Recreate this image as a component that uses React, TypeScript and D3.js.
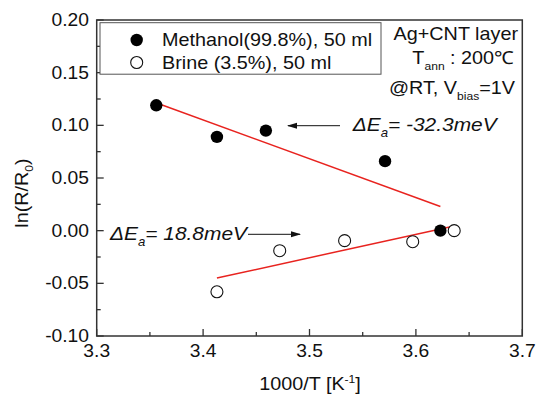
import React from "react";
import * as d3 from "d3";

const methanolX = [3.356, 3.413, 3.459, 3.571, 3.623];
const methanolY = [0.119, 0.089, 0.095, 0.066, 0.0];
const brineX = [3.413, 3.472, 3.533, 3.597, 3.636];
const brineY = [-0.058, -0.019, -0.0095, -0.0105, 0.0];
const methanolFitX = [3.357, 3.623];
const methanolFitY = [0.121, 0.023];
const brineFitX = [3.413, 3.636];
const brineFitY = [-0.045, 0.0045];
const xTicks = [3.3, 3.4, 3.5, 3.6, 3.7];
const xMinor = [3.35, 3.45, 3.55, 3.65];
const yTicks = [-0.1, -0.05, 0.0, 0.05, 0.1, 0.15, 0.2];
const yMinor = [-0.075, -0.025, 0.025, 0.075, 0.125, 0.175];
const legendLabels = ["Methanol(99.8%), 50 ml", "Brine (3.5%), 50 ml"];

const W = 543, H = 400;
const L = 96.7, R = 522.3, T = 20, B = 336;
const font = "'Liberation Sans', Arial, sans-serif";
const SX = 1.1;

function ST(props: { x: number; y: number; anchor?: string; size?: number; italic?: boolean; rotate?: number; children: React.ReactNode }) {
  const { x, y, anchor = "start", size = 18, italic = false, rotate = 0, children } = props;
  return (
    <g transform={`translate(${x},${y}) rotate(${rotate}) scale(${SX},1)`}>
      <text x={0} y={0} textAnchor={anchor} fontSize={size} fontStyle={italic ? "italic" : "normal"} fill="#111">
        {children}
      </text>
    </g>
  );
}

export default function App() {
  const x = d3.scaleLinear().domain([3.3, 3.7]).range([L, R]);
  const y = d3.scaleLinear().domain([-0.1, 0.2]).range([B, T]);
  const line = d3.line<[number, number]>().x(d => x(d[0])).y(d => y(d[1]));
  const ax = "#333";
  return (
    <svg width={W} height={H} style={{ position: "absolute", left: 0, top: 0, background: "#fff" }} fontFamily={font}>
      <defs>
        <marker id="ah" markerWidth="10" markerHeight="8" refX="9" refY="4" orient="auto" markerUnits="userSpaceOnUse">
          <path d="M0,1 L10,4 L0,7 Z" fill="#111" />
        </marker>
      </defs>
      <rect x={L} y={T} width={R - L} height={B - T} fill="none" stroke={ax} strokeWidth={1.5} />
      {xTicks.map(t => (
        <g key={"x" + t}>
          <line x1={x(t)} x2={x(t)} y1={B} y2={B - 7} stroke={ax} strokeWidth={1.3} />
          <ST x={x(t)} y={357} anchor="middle" size={17.5}>{t.toFixed(1)}</ST>
        </g>
      ))}
      {xMinor.map(t => (
        <line key={"xm" + t} x1={x(t)} x2={x(t)} y1={B} y2={B - 4} stroke={ax} strokeWidth={1.3} />
      ))}
      {yTicks.map(t => (
        <g key={"y" + t}>
          <line x1={L} x2={L + 7} y1={y(t)} y2={y(t)} stroke={ax} strokeWidth={1.3} />
          <ST x={89} y={y(t) + 6} anchor="end" size={17.5}>{t.toFixed(2)}</ST>
        </g>
      ))}
      {yMinor.map(t => (
        <line key={"ym" + t} x1={L} x2={L + 4} y1={y(t)} y2={y(t)} stroke={ax} strokeWidth={1.3} />
      ))}
      <ST x={310} y={390} anchor="middle" size={18}>
        1000/T [K<tspan dy={-7} fontSize={11}>-1</tspan><tspan dy={7}>]</tspan>
      </ST>
      <ST x={28} y={193} anchor="middle" size={18} rotate={-90}>
        ln(R/R<tspan dy={5} fontSize={11}>0</tspan><tspan dy={-5}>)</tspan>
      </ST>
      <path d={line(methanolFitX.map((v, i) => [v, methanolFitY[i]]) as [number, number][]) || ""} stroke="#e8231f" strokeWidth={1.5} fill="none" />
      <path d={line(brineFitX.map((v, i) => [v, brineFitY[i]]) as [number, number][]) || ""} stroke="#e8231f" strokeWidth={1.5} fill="none" />
      {brineX.map((v, i) => (
        <circle key={"b" + i} cx={x(v)} cy={y(brineY[i])} r={6} fill="#fff" stroke="#111" strokeWidth={1.1} />
      ))}
      {methanolX.map((v, i) => (
        <circle key={"m" + i} cx={x(v)} cy={y(methanolY[i])} r={6.2} fill="#000" />
      ))}
      <rect x={100} y={22.7} width={281} height={51.5} fill="#fff" stroke="#555" strokeWidth={1} />
      <circle cx={136.7} cy={40} r={6.2} fill="#000" />
      <circle cx={136.7} cy={62.5} r={6} fill="#fff" stroke="#111" strokeWidth={1.1} />
      <ST x={162} y={46} size={18}>{legendLabels[0]}</ST>
      <ST x={162} y={69} size={18}>{legendLabels[1]}</ST>
      <ST x={518} y={40} anchor="end" size={18}>Ag+CNT layer</ST>
      <ST x={514} y={64} anchor="end" size={18}>
        T<tspan dy={6} fontSize={11}>ann</tspan><tspan dy={-6}> : 200℃</tspan>
      </ST>
      <ST x={515} y={94} anchor="end" size={18}>
        @RT, V<tspan dy={6} fontSize={11}>bias</tspan><tspan dy={-6}>=1V</tspan>
      </ST>
      <line x1={340} y1={125.7} x2={288} y2={125.7} stroke="#111" strokeWidth={1} markerEnd="url(#ah)" />
      <ST x={352.7} y={131} size={19} italic>
        ΔE<tspan dy={6} fontSize={12}>a</tspan><tspan dy={-6}>= -32.3meV</tspan>
      </ST>
      <ST x={110} y={240} size={19} italic>
        ΔE<tspan dy={6} fontSize={12}>a</tspan><tspan dy={-6}>= 18.8meV</tspan>
      </ST>
      <line x1={248} y1={234.3} x2={300} y2={234.3} stroke="#111" strokeWidth={1} markerEnd="url(#ah)" />
    </svg>
  );
}
